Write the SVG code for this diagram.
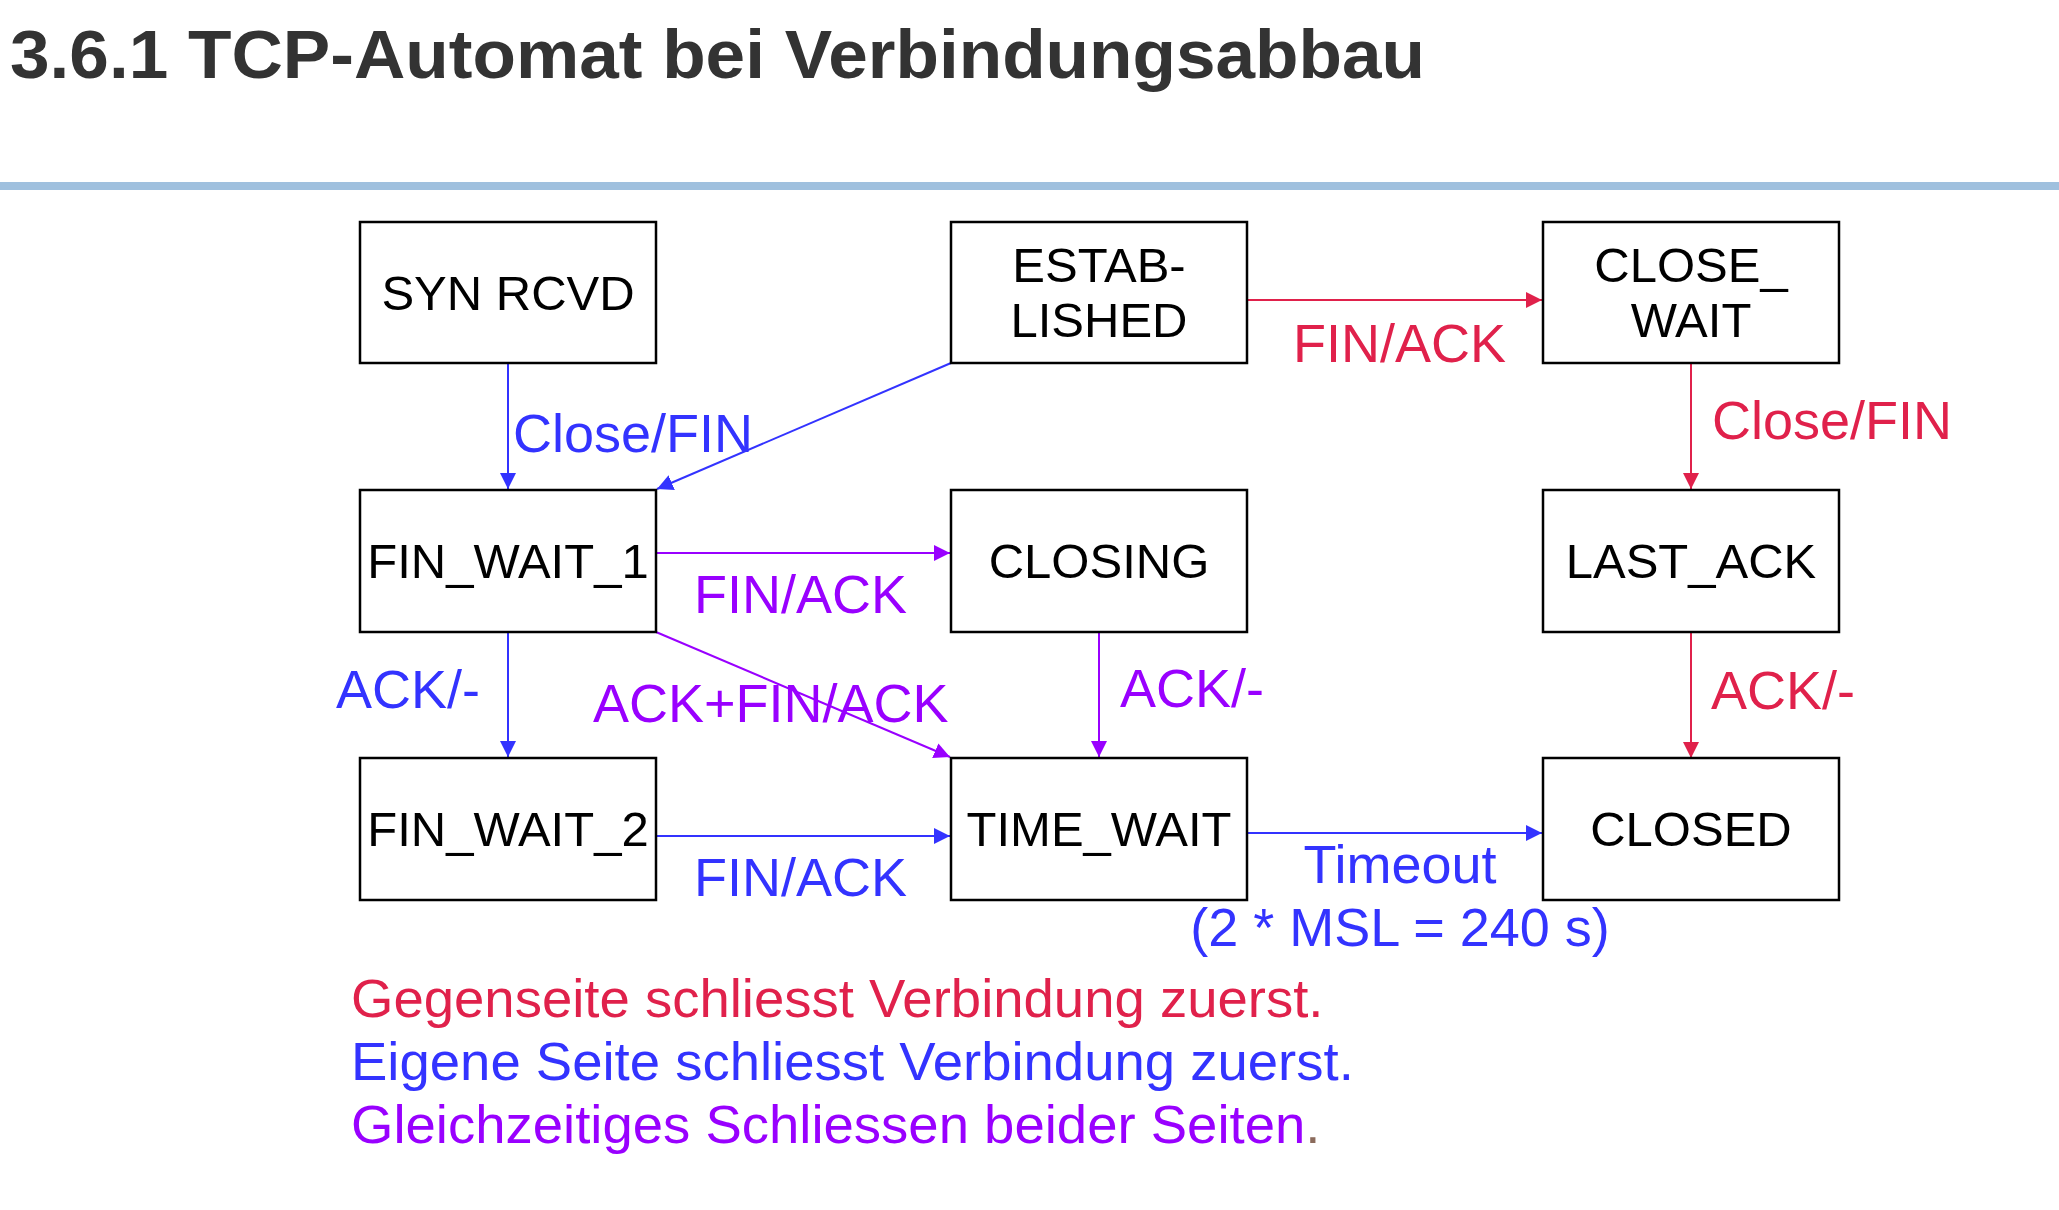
<svg xmlns="http://www.w3.org/2000/svg" width="2059" height="1210" viewBox="0 0 2059 1210">
<style>
  .box { fill: #ffffff; stroke: #000000; stroke-width: 2.5; }
  .st { font-family: "Liberation Sans", Arial, sans-serif; font-size: 49px; fill: #000000; text-anchor: middle; }
  .lbl { font-family: "Liberation Sans", Arial, sans-serif; font-size: 54px; }
  .red { fill: #e0214b; }
  .blue { fill: #3333ff; }
  .purple { fill: #9900ff; }
  .lred { stroke: #e0214b; stroke-width: 2; fill: none; marker-end: url(#ar); }
  .lblue { stroke: #3333ff; stroke-width: 2; fill: none; marker-end: url(#ab); }
  .lpurple { stroke: #9900ff; stroke-width: 2; fill: none; marker-end: url(#ap); }
</style>
<defs>
  <marker id="ar" markerUnits="userSpaceOnUse" markerWidth="16" markerHeight="16" refX="16" refY="8" orient="auto"><path d="M0,0 L16,8 L0,16 z" fill="#e0214b"/></marker>
  <marker id="ab" markerUnits="userSpaceOnUse" markerWidth="16" markerHeight="16" refX="16" refY="8" orient="auto"><path d="M0,0 L16,8 L0,16 z" fill="#3333ff"/></marker>
  <marker id="ap" markerUnits="userSpaceOnUse" markerWidth="16" markerHeight="16" refX="16" refY="8" orient="auto"><path d="M0,0 L16,8 L0,16 z" fill="#9900ff"/></marker>
</defs>
<rect width="2059" height="1210" fill="#ffffff"/>
<text x="10" y="78" font-family="Liberation Sans, Arial, sans-serif" font-weight="bold" font-size="68" fill="#333333" textLength="1415" lengthAdjust="spacingAndGlyphs">3.6.1 TCP-Automat bei Verbindungsabbau</text>
<rect x="0" y="182" width="2059" height="8" fill="#9fc0de"/>

<g id="connectors">
  <line class="lblue" x1="508" y1="363" x2="508" y2="489"/>
  <line class="lblue" x1="951" y1="363" x2="657" y2="489"/>
  <line class="lred" x1="1248" y1="300" x2="1542" y2="300"/>
  <line class="lred" x1="1691" y1="363" x2="1691" y2="489"/>
  <line class="lpurple" x1="656" y1="553" x2="950" y2="553"/>
  <line class="lblue" x1="508" y1="632" x2="508" y2="757"/>
  <line class="lpurple" x1="656" y1="632" x2="950" y2="757"/>
  <line class="lpurple" x1="1099" y1="632" x2="1099" y2="757"/>
  <line class="lred" x1="1691" y1="632" x2="1691" y2="758"/>
  <line class="lblue" x1="656" y1="836" x2="950" y2="836"/>
  <line class="lblue" x1="1248" y1="833" x2="1542" y2="833"/>
  <text class="lbl blue" x="513" y="452">Close/FIN</text>
  <text class="lbl red" x="1293" y="362">FIN/ACK</text>
  <text class="lbl red" x="1712" y="439">Close/FIN</text>
  <text class="lbl purple" x="694" y="613">FIN/ACK</text>
  <text class="lbl blue" x="336" y="708">ACK/-</text>
  <text class="lbl purple" x="593" y="722">ACK+FIN/ACK</text>
  <text class="lbl purple" x="1120" y="707">ACK/-</text>
  <text class="lbl red" x="1711" y="709">ACK/-</text>
  <text class="lbl blue" x="694" y="896">FIN/ACK</text>
  <text class="lbl blue" x="1400" y="883" text-anchor="middle">Timeout</text>
  <text class="lbl blue" x="1400" y="946" text-anchor="middle">(2 * MSL = 240 s)</text>
</g>

<g id="syn_rcvd"><rect class="box" x="360" y="222" width="296" height="141"/><text class="st" x="508" y="310">SYN RCVD</text></g>
<g id="established"><rect class="box" x="951" y="222" width="296" height="141"/><text class="st" x="1099" y="282">ESTAB-</text><text class="st" x="1099" y="337">LISHED</text></g>
<g id="close_wait"><rect class="box" x="1543" y="222" width="296" height="141"/><text class="st" x="1691" y="282">CLOSE_</text><text class="st" x="1691" y="337">WAIT</text></g>
<g id="fin_wait_1"><rect class="box" x="360" y="490" width="296" height="142"/><text class="st" x="508" y="578">FIN_WAIT_1</text></g>
<g id="closing"><rect class="box" x="951" y="490" width="296" height="142"/><text class="st" x="1099" y="578">CLOSING</text></g>
<g id="last_ack"><rect class="box" x="1543" y="490" width="296" height="142"/><text class="st" x="1691" y="578">LAST_ACK</text></g>
<g id="fin_wait_2"><rect class="box" x="360" y="758" width="296" height="142"/><text class="st" x="508" y="846">FIN_WAIT_2</text></g>
<g id="time_wait"><rect class="box" x="951" y="758" width="296" height="142"/><text class="st" x="1099" y="846">TIME_WAIT</text></g>
<g id="closed"><rect class="box" x="1543" y="758" width="296" height="142"/><text class="st" x="1691" y="846">CLOSED</text></g>

<g id="legend" font-family="Liberation Sans, Arial, sans-serif" font-size="54.5">
  <text x="351" y="1017" fill="#e0214b">Gegenseite schliesst Verbindung zuerst.</text>
  <text x="351" y="1080" fill="#3333ff">Eigene Seite schliesst Verbindung zuerst.</text>
  <text x="351" y="1143" fill="#9900ff">Gleichzeitiges Schliessen beider Seiten<tspan fill="#8b6b5c">.</tspan></text>
</g>
</svg>
